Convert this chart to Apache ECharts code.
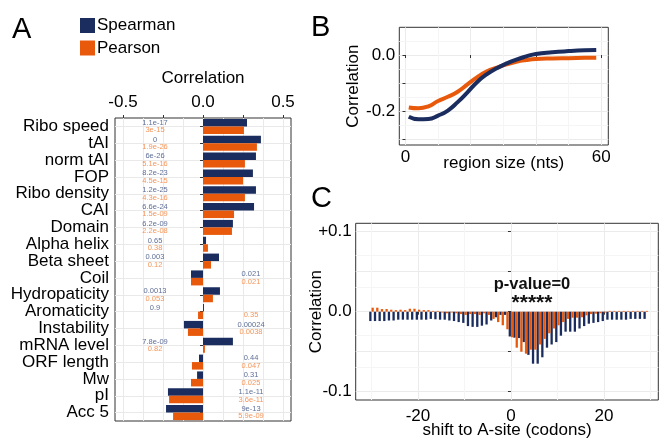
<!DOCTYPE html>
<html>
<head>
<meta charset="utf-8">
<script src="https://cdn.jsdelivr.net/npm/echarts@6/dist/echarts.min.js"></script>
<style>
html, body { margin: 0; padding: 0; background: #fff; }
#chart { width: 659px; height: 438px; }
</style>
</head>
<body>
<div id="chart"></div>
<script>
// panel A : feature correlations
var featureNames = ['Ribo speed', 'tAI', 'norm tAI', 'FOP', 'Ribo density', 'CAI', 'Domain', 'Alpha helix', 'Beta sheet',
    'Coil', 'Hydropaticity', 'Aromaticity', 'Instability', 'mRNA level', 'ORF length', 'Mw', 'pI', 'Acc 5'];
var spearmanCorr = [0.275, 0.362, 0.331, 0.312, 0.331, 0.319, 0.187, 0.019, 0.100,
    -0.075, 0.106, 0.006, -0.119, 0.187, -0.025, -0.037, -0.219, -0.231];
var pearsonCorr = [0.256, 0.337, 0.262, 0.250, 0.262, 0.194, 0.181, 0.031, 0.050,
    -0.075, 0.062, -0.031, -0.094, 0.012, -0.069, -0.075, -0.212, -0.187];
var spearmanP = ['1.1e-17', '0', '6e-26', '8.2e-23', '1.2e-25', '6.6e-24', '6.2e-09', '0.65', '0.003',
    '0.021', '0.0013', '0.9', '0.00024', '7.8e-09', '0.44', '0.31', '1.1e-11', '9e-13'];
var pearsonP = ['3e-15', '1.9e-26', '5.1e-16', '4.5e-15', '4.3e-16', '1.5e-09', '2.2e-08', '0.38', '0.12',
    '0.021', '0.053', '0.35', '0.0038', '0.82', '0.047', '0.025', '3.6e-11', '5.9e-09'];

// panel B : correlation vs region size
var regionSize = [1, 4, 7, 10, 13, 16, 19, 22, 25, 28, 31, 34, 37, 40, 45, 50, 55, 58.5];
var regionSpearman = [-0.220, -0.229, -0.228, -0.216, -0.198, -0.168, -0.133, -0.096, -0.068, -0.047, -0.030,
    -0.016, -0.005, 0.004, 0.010, 0.014, 0.017, 0.018];
var regionPearson = [-0.187, -0.190, -0.183, -0.164, -0.149, -0.131, -0.105, -0.079, -0.058, -0.045, -0.033,
    -0.024, -0.018, -0.014, -0.012, -0.011, -0.010, -0.0095];

// panel C : correlation vs shift to A-site
var shiftCodons = [-30, -29, -28, -27, -26, -25, -24, -23, -22, -21, -20, -19, -18, -17, -16, -15, -14, -13, -12, -11,
    -10, -9, -8, -7, -6, -5, -4, -3, -2, -1, 0, 1, 2, 3, 4, 5, 6, 7, 8, 9,
    10, 11, 12, 13, 14, 15, 16, 17, 18, 19, 20, 21, 22, 23, 24, 25, 26, 27, 28, 29];
var shiftSpearman = [-0.0117, -0.0117, -0.0117, -0.0117, -0.011, -0.011, -0.010, -0.010, -0.010, -0.010,
    -0.010, -0.010, -0.010, -0.009, -0.0095, -0.010, -0.010, -0.011, -0.0117, -0.013,
    -0.014, -0.018, -0.019, -0.019, -0.0175, -0.016, -0.011, -0.007, -0.004, -0.004,
    -0.031, -0.0325, -0.033, -0.038, -0.054, -0.065, -0.065, -0.057, -0.045, -0.041,
    -0.038, -0.030, -0.025, -0.025, -0.025, -0.021, -0.018, -0.015, -0.014, -0.013,
    -0.0117, -0.010, -0.010, -0.010, -0.010, -0.010, -0.009, -0.009, -0.009, -0.009];
var shiftPearson = [0.005, 0.005, 0.0033, 0.0033, 0.0025, 0.002, 0.0025, 0.002, 0.0037, 0.0037,
    0.0025, 0.002, 0.002, 0.001, 0.001, -0.001, -0.002, -0.001, -0.002, -0.003,
    -0.004, -0.003, -0.003, -0.004, -0.002, -0.004, -0.009, -0.013, -0.017, -0.022,
    -0.032, -0.045, -0.050, -0.0525, -0.0475, -0.0475, -0.041, -0.034, -0.027, -0.021,
    -0.017, -0.013, -0.009, -0.0075, -0.0075, -0.007, -0.0046, -0.003, -0.0025, -0.002,
    -0.001, 0.001, 0.001, 0.001, 0.001, 0.001, 0.001, 0.001, 0.001, 0.001];

var BLUE = '#1B2D5E';
var ORANGE = '#E8590C';
var FONT = 'Liberation Sans';

// gridlines drawn as markLines under the marks (panels B and C)
function gridSeries(idx, xs, ys, color) {
    return {
        type: 'line', xAxisIndex: idx, yAxisIndex: idx, data: [], silent: true, z: 0,
        markLine: {
            silent: true, symbol: ['none', 'none'], z: 0, animation: false,
            label: { show: false },
            lineStyle: { color: color, width: 1, type: 'solid' },
            data: xs.map(function(v) { return { xAxis: v }; }).concat(ys.map(function(v) { return { yAxis: v }; }))
        }
    };
}

var tickStyle = { show: true, length: 3, lineStyle: { color: '#333', width: 1 } };
var labelStyle = { fontSize: 17, color: '#000', fontFamily: FONT };
var frame = { show: true, borderColor: '#333', borderWidth: 1, outerBoundsMode: 'none', containLabel: false };
var hidden = { axisLine: { show: false }, axisTick: { show: false }, axisLabel: { show: false } };
var gridLineA = { show: true, lineStyle: { color: '#e9e9e9', width: 1 } };

// panel A frame and its gridline layers (category centres)
var nA = featureNames.length;
var topA = 118, heightA = 303;

var chart = echarts.init(document.getElementById('chart'));
var option = {
    animation: false,
    textStyle: { fontFamily: FONT },
    legend: {
        data: ['Spearman', 'Pearson'],
        orient: 'vertical', left: 80, top: 17, padding: 0,
        itemWidth: 15, itemHeight: 15, itemGap: 5.5,
        icon: 'rect',
        textStyle: { fontSize: 17, color: '#000', fontFamily: FONT, padding: [0, 0, 0, -3] }
    },
    grid: [
        Object.assign({ left: 115, top: topA, width: 176, height: heightA }, frame),
        Object.assign({ left: 399.3, top: 27.3, width: 209, height: 117.7 }, frame),
        Object.assign({ left: 355.7, top: 223.3, width: 302.6, height: 176.7 }, frame),
        // vertical gridlines of A: spans -0.5..0.5
        { left: 123, top: topA, width: 160, height: heightA, show: false, outerBoundsMode: 'none' },
        // horizontal gridlines of A: spans first..last category centre
        { left: 115, top: topA + heightA / nA / 2, width: 176, height: heightA * (nA - 1) / nA,
          show: false, outerBoundsMode: 'none' }
    ],
    xAxis: [
        {
            gridIndex: 0, type: 'value', position: 'top', min: -0.55, max: 0.55,
            axisLine: { show: false }, splitLine: { show: false },
            axisTick: Object.assign({ customValues: [-0.5, -0.25, 0, 0.25, 0.5] }, tickStyle),
            axisLabel: Object.assign({ customValues: [-0.5, 0, 0.5], margin: 7,
                formatter: function(v) { return v.toFixed(1); } }, labelStyle),
            name: 'Correlation', nameLocation: 'middle', nameGap: 31, nameMoveOverlap: false,
            nameTextStyle: labelStyle
        },
        {
            gridIndex: 1, type: 'value', min: -1.9, max: 62.2,
            axisLine: { show: false }, splitLine: { show: false },
            axisTick: Object.assign({ customValues: [0, 20, 40, 60] }, tickStyle),
            axisLabel: Object.assign({ customValues: [0, 60], margin: 4 }, labelStyle),
            name: 'region size (nts)', nameLocation: 'middle', nameGap: 10, nameMoveOverlap: false,
            nameTextStyle: labelStyle
        },
        {
            gridIndex: 2, type: 'value', min: -33.4, max: 31.7,
            axisLine: { show: false }, splitLine: { show: false },
            axisTick: Object.assign({ customValues: [-20, 0, 20] }, tickStyle),
            axisLabel: Object.assign({ customValues: [-20, 0, 20], margin: 8 }, labelStyle),
            name: 'shift to A-site (codons)', nameLocation: 'middle', nameGap: 22, nameMoveOverlap: false,
            nameTextStyle: labelStyle
        },
        Object.assign({ gridIndex: 3, type: 'value', min: -0.5, max: 0.5, interval: 0.125, splitLine: gridLineA }, hidden),
        Object.assign({ gridIndex: 4, type: 'value', min: 0, max: 1, splitLine: { show: false } }, hidden)
    ],
    yAxis: [
        {
            gridIndex: 0, type: 'category', data: featureNames, inverse: true,
            axisLine: { show: false }, splitLine: { show: false },
            axisTick: Object.assign({ alignWithLabel: true, interval: 0 }, tickStyle),
            axisLabel: Object.assign({ margin: 6, interval: 0 }, labelStyle)
        },
        {
            gridIndex: 1, type: 'value', min: -0.321, max: 0.099,
            axisLine: { show: false }, splitLine: { show: false },
            axisTick: Object.assign({ customValues: [-0.3, -0.2, -0.1, 0] }, tickStyle),
            axisLabel: Object.assign({ customValues: [-0.2, 0], margin: 4,
                formatter: function(v) { return v.toFixed(1); } }, labelStyle),
            name: 'Correlation', nameLocation: 'middle', nameGap: 37, nameRotate: 90, nameMoveOverlap: false,
            nameTextStyle: labelStyle
        },
        {
            gridIndex: 2, type: 'value', min: -0.1104, max: 0.1105,
            axisLine: { show: false }, splitLine: { show: false },
            axisTick: Object.assign({ customValues: [-0.1, -0.05, 0, 0.05, 0.1] }, tickStyle),
            axisLabel: Object.assign({ customValues: [-0.1, 0, 0.1], margin: 4,
                formatter: function(v) { return v > 0 ? '+' + v.toFixed(1) : v.toFixed(1); } }, labelStyle),
            name: 'Correlation', nameLocation: 'middle', nameGap: 31, nameRotate: 90, nameMoveOverlap: false,
            nameTextStyle: labelStyle
        },
        Object.assign({ gridIndex: 3, type: 'value', min: 0, max: 1, splitLine: { show: false } }, hidden),
        Object.assign({ gridIndex: 4, type: 'value', min: 0, max: nA - 1, interval: 1, splitLine: gridLineA }, hidden)
    ],
    series: [
        // panel A
        {
            name: 'Spearman', type: 'bar', xAxisIndex: 0, yAxisIndex: 0,
            data: spearmanCorr, barWidth: 7.5, barGap: '0%', itemStyle: { color: BLUE }, z: 3
        },
        {
            name: 'Pearson', type: 'bar', xAxisIndex: 0, yAxisIndex: 0,
            data: pearsonCorr, barWidth: 7.5, barGap: '0%', itemStyle: { color: ORANGE }, z: 3
        },
        {
            name: 'p Spearman', type: 'scatter', xAxisIndex: 0, yAxisIndex: 0, symbolSize: 0, z: 4,
            data: featureNames.map(function(n, i) { return [spearmanCorr[i] > 0 ? -0.3 : 0.3, n]; }),
            label: { show: true, position: 'inside', offset: [0, -3.8], fontSize: 7.5, color: '#34497c',
                formatter: function(p) { return spearmanP[p.dataIndex]; } }
        },
        {
            name: 'p Pearson', type: 'scatter', xAxisIndex: 0, yAxisIndex: 0, symbolSize: 0, z: 4,
            data: featureNames.map(function(n, i) { return [pearsonCorr[i] > 0 ? -0.3 : 0.3, n]; }),
            label: { show: true, position: 'inside', offset: [0, 3.8], fontSize: 7.5, color: '#F07A30',
                formatter: function(p) { return pearsonP[p.dataIndex]; } }
        },
        // panel B
        gridSeries(1, [0, 20, 40, 60], [-0.3, -0.2, -0.1, 0], '#ebebeb'),
        gridSeries(1, [10, 30, 50], [-0.25, -0.15, -0.05, 0.05], '#f5f5f5'),
        {
            name: 'Pearson B', type: 'line', xAxisIndex: 1, yAxisIndex: 1, smooth: true, showSymbol: false,
            data: regionSize.map(function(x, i) { return [x, regionPearson[i]]; }),
            lineStyle: { color: ORANGE, width: 4 }, itemStyle: { color: ORANGE }, z: 3
        },
        {
            name: 'Spearman B', type: 'line', xAxisIndex: 1, yAxisIndex: 1, smooth: true, showSymbol: false,
            data: regionSize.map(function(x, i) { return [x, regionSpearman[i]]; }),
            lineStyle: { color: BLUE, width: 4 }, itemStyle: { color: BLUE }, z: 4
        },
        // panel C
        gridSeries(2, [-20, 0, 20], [-0.1, -0.05, 0, 0.05, 0.1], '#ebebeb'),
        gridSeries(2, [-30, -10, 10, 30], [-0.075, -0.025, 0.025, 0.075], '#f5f5f5'),
        {
            name: 'Spearman C', type: 'bar', xAxisIndex: 2, yAxisIndex: 2, barWidth: 2.3, barGap: '0%',
            data: shiftCodons.map(function(x, i) { return [x, shiftSpearman[i]]; }),
            itemStyle: { color: BLUE }, z: 3
        },
        {
            name: 'Pearson C', type: 'bar', xAxisIndex: 2, yAxisIndex: 2, barWidth: 2.3, barGap: '0%',
            data: shiftCodons.map(function(x, i) { return [x, shiftPearson[i]]; }),
            itemStyle: { color: ORANGE }, z: 3
        }
    ],
    graphic: [
        { type: 'text', x: 12, y: 15, z: 100, style: { text: 'A', font: '29px ' + FONT, fill: '#000' } },
        { type: 'text', x: 311, y: 13, z: 100, style: { text: 'B', font: '29px ' + FONT, fill: '#000' } },
        { type: 'text', x: 311, y: 184, z: 100, style: { text: 'C', font: '29px ' + FONT, fill: '#000' } },
        { type: 'text', x: 532, y: 284, z: 100, style: { text: 'p-value=0', font: 'bold 16.5px ' + FONT, fill: '#111',
            align: 'center', verticalAlign: 'middle' } },
        { type: 'text', x: 532, y: 303, z: 100, style: { text: '*****', font: 'bold 21px ' + FONT, fill: '#111',
            align: 'center', verticalAlign: 'middle' } }
    ]
};
chart.setOption(option);
</script>
</body>
</html>
